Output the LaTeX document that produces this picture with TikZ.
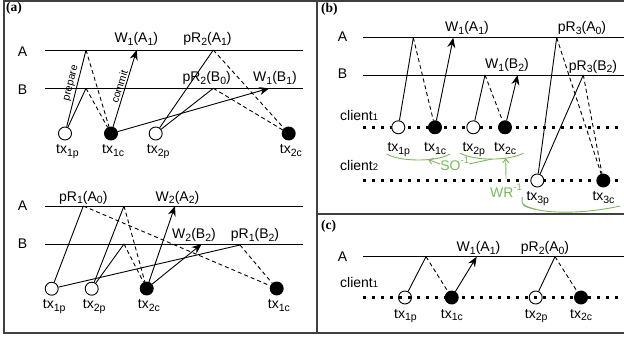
\documentclass[tikz,border=0pt]{standalone}
\usepackage{fontspec}
\setmainfont{Liberation Sans}
\newfontfamily\panelfont{Liberation Serif}
\usetikzlibrary{arrows.meta, positioning, calc}

\definecolor{relgreen}{RGB}{122,184,92}
\newcommand{\lsub}[1]{\raisebox{-0.4ex}{\fontsize{10.5}{11}\selectfont #1}}
\newcommand{\lsup}[1]{\raisebox{0.9ex}{\fontsize{9.5}{10}\selectfont #1}}
\newcommand{\lsml}[1]{{\fontsize{9.5}{10}\selectfont #1}}

\begin{document}
\begin{tikzpicture}[
    x=1pt, y=-1pt, % 像素坐标(y 向下)
    every node/.style={font=\fontsize{14}{16}\selectfont}, % 统一字体
    frame/.style={black!75, line width=1.2pt}, % 外框与分隔线
    axis/.style={black, line width=1pt}, % 数据项 A/B 时间线
    client/.style={black, line width=2.8pt, dash pattern=on 2.8pt off 6.2pt}, % 客户端(粗点线)
    msg/.style={black, line width=0.9pt}, % prepare / 读
    ack/.style={msg, dash pattern=on 4pt off 3pt}, % 返回(虚线)
    wr/.style={msg, -{Stealth[length=10pt, width=8pt]}}, % commit 写入(箭头)
    txp/.style={circle, draw, fill=white, line width=0.9pt, minimum size=13pt, inner sep=0pt}, % prepare 点
    txc/.style={txp, fill=black}, % commit 点
    txl/.style={anchor=base west, inner sep=0pt}, % tx 标注
    ev/.style={anchor=base, inner sep=0pt}, % 操作标注
    note/.style={font=\fontsize{10.5}{12}\selectfont, inner sep=1.5pt}, % 线上小字
    rel/.style={relgreen, line width=0.9pt}, % 依赖关系(绿色)
    barb/.style={rel, -{Straight Barb[length=4pt, width=6pt]}},
    tag/.style={font=\panelfont\bfseries\fontsize{13.5}{15}\selectfont, anchor=base west, inner sep=0pt}
]
    \useasboundingbox (0,0) rectangle (624,341);

    % 0. 外框与分隔线
    \draw[frame] (624,1) -- (4,1) -- (4,333) -- (624,333);
    \draw[frame] (317,1) -- (317,333);
    \draw[frame] (317,214) -- (624,214);
    \node[tag] (taga) at (6,11.5) {(a)};
    \node[tag] (tagb) at (321,12) {(b)};
    \node[tag] (tagc) at (321,229) {(c)};

    % 1. (a) 上图:时间线 A、B
    \foreach \y/\t in {50/A, 88.3/B} {
        \draw[axis] (45,\y) -- (303,\y);
        \node (u\t) at (22.5,{\y+1.5}) {\t};
    }
    \node[txp] (u1p) at (65,133.5) {};
    \node[txc] (u1c) at (111,133.5) {};
    \node[txp] (u2p) at (155.7,133.5) {};
    \node[txc] (u2c) at (288.7,133.5) {};
    \foreach \n/\s in {u1p/1p, u1c/1c, u2p/2p, u2c/2c} {
        \node[txl] (\n-l) at ($(\n)+(-9,20)$) {tx\lsub{\s}};
    }
    \coordinate (uA1p) at (86,50);
    \coordinate (uB1p) at (86,88.3);
    \coordinate (uA1w) at (136.7,50);
    \coordinate (uB1w) at (269.3,88.3);
    \coordinate (uA2r) at (213.3,50);
    \coordinate (uB2r) at (213.3,88.3);
    \draw[msg] (u1p) -- (uA1p) node[note, pos=0.55, sloped, above] (prep) {prepare};
    \draw[msg] (u1p) -- (uB1p);
    \draw[ack] (uA1p) -- (u1c);
    \draw[ack] (uB1p) -- (u1c);
    \draw[wr] (u1c) -- (uA1w) node[note, pos=0.5, sloped, above] (comm) {commit};
    \draw[wr] (u1c) -- (uB1w);
    \draw[msg] (u2p) -- (uA2r);
    \draw[msg] (u2p) -- (uB2r);
    \draw[ack] (uA2r) -- (u2c);
    \draw[ack] (uB2r) -- (u2c);
    \node[ev] (uw1a) at (136.3,42.3) {W\lsub{1}(A\lsub{1})};
    \node[ev] (ur2a) at (207.5,42.3) {pR\lsub{2}(A\lsub{1})};
    \node[ev] (ur2b) at (206.7,81.7) {pR\lsub{2}(B\lsub{0})};
    \node[ev] (uw1b) at (275,81.7) {W\lsub{1}(B\lsub{1})};

    % 2. (a) 下图
    \foreach \y/\t in {206/A, 244/B} {
        \draw[axis] (45,\y) -- (303,\y);
        \node (l\t) at (22.5,\y) {\t};
    }
    \node[txp] (l1p) at (51.7,288.7) {};
    \node[txp] (l2p) at (91.7,288.7) {};
    \node[txc] (l2c) at (146.7,288.5) {};
    \node[txc] (l1c) at (276.7,288.5) {};
    \foreach \n/\s in {l1p/1p, l2p/2p, l2c/2c, l1c/1c} {
        \node[txl] (\n-l) at ($(\n)+(-9,20)$) {tx\lsub{\s}};
    }
    \coordinate (lA1r) at (83.3,206);
    \coordinate (lA2p) at (124,206);
    \coordinate (lB2p) at (124,244);
    \coordinate (lA2w) at (175,206);
    \coordinate (lB2w) at (201.7,244);
    \coordinate (lB1r) at (240,245);
    \draw[msg] (l1p) -- (lA1r);
    \draw[ack] (lA1r) -- (l1c);
    \draw[msg] (l2p) -- (lA2p);
    \draw[msg] (l2p) -- (lB2p);
    \draw[ack] (lA2p) -- (l2c);
    \draw[ack] (lB2p) -- (l2c);
    \draw[wr] (l2c) -- (lA2w);
    \draw[wr] (l2c) -- (lB2w);
    \draw[msg] (l1p) -- (lB1r);
    \draw[ack] (lB1r) -- (l1c);
    \node[ev] (lr1a) at (83.3,201) {pR\lsub{1}(A\lsub{0})};
    \node[ev] (lw2a) at (177.5,201) {W\lsub{2}(A\lsub{2})};
    \node[ev] (lw2b) at (194,238.3) {W\lsub{2}(B\lsub{2})};
    \node[ev] (lr1b) at (255,238.3) {pR\lsub{1}(B\lsub{2})};

    % 3. (b) 两个客户端
    \foreach \y/\t in {37.7/A, 75/B} {
        \draw[axis] (363,\y) -- (624,\y);
        \node (b\t) at (342.5,{\y-1.3}) {\t};
    }
    \node[txl] (bcl1) at (340,120) {client\lsml{1}};
    \node[txl] (bcl2) at (340,170) {client\lsml{2}};
    \draw[client] (363,127.3) -- (624,127.3);
    \draw[client] (363,180.5) -- (624,180.5);
    \node[txp] (b1p) at (398.3,127.3) {};
    \node[txc] (b1c) at (435,127.3) {};
    \node[txp] (b2p) at (473.3,127.3) {};
    \node[txc] (b2c) at (505,127.3) {};
    \node[txp] (b3p) at (537.3,180.5) {};
    \node[txc] (b3c) at (603.3,180.5) {};
    \foreach \n/\s/\d in {b1p/1p/24, b1c/1c/24, b2p/2p/24, b2c/2c/24, b3p/3p/20, b3c/3c/20} {
        \node[txl] (\n-l) at ($(\n)+(-11,\d)$) {tx\lsub{\s}};
    }
    \coordinate (bA1p) at (413.3,37.7);
    \coordinate (bA1w) at (453.3,37.7);
    \coordinate (bB2p) at (485,75);
    \coordinate (bB2w) at (517.7,75);
    \coordinate (bA3r) at (556.7,37.7);
    \coordinate (bB3r) at (583.3,75);
    \draw[msg] (b1p) -- (bA1p);
    \draw[ack] (bA1p) -- (b1c);
    \draw[wr] (b1c) -- (bA1w);
    \draw[msg] (b2p) -- (bB2p);
    \draw[ack] (bB2p) -- (b2c);
    \draw[wr] (b2c) -- (bB2w);
    \draw[msg] (b3p) -- (bA3r);
    \draw[msg] (b3p) -- (bB3r);
    \draw[ack] (bA3r) -- (b3c);
    \draw[ack] (bB3r) -- (b3c);
    \node[ev] (bw1a) at (467,31.7) {W\lsub{1}(A\lsub{1})};
    \node[ev] (br3a) at (582,31.7) {pR\lsub{3}(A\lsub{0})};
    \node[ev] (bw1b) at (507,68.3) {W\lsub{1}(B\lsub{2})};
    \node[ev] (br3b) at (593,70) {pR\lsub{3}(B\lsub{2})};

    % 4. (b) SO^-1 与 WR^-1(绿色)
    \draw[rel] (386.7,154) .. controls (400,162) and (437,162) .. (450,154) coordinate[pos=0.63] (so1);
    \draw[rel] (460,153.3) .. controls (475,161) and (508,161) .. (523.3,153.3)
        coordinate[pos=0.5] (so2) coordinate[pos=0.7] (wr2);
    \draw[rel] (523,204) .. controls (535,214) and (580,215) .. (620,206) coordinate[pos=0.22] (wr3);
    \node[ev, relgreen] (so) at (454.7,170.5) {SO\lsup{-1}};
    \node[ev, relgreen] (wr) at (506,197) {WR\lsup{-1}};
    \coordinate[above=5pt of wr] (wrtop);
    \draw[barb] (so.west) -- (so1);
    \draw[rel] (so.east) -- (so2);
    \draw[barb] (wrtop) -- (wr2);
    \draw[rel] (wr.south east) .. controls (522,206) .. (wr3);

    % 5. (c) 单客户端
    \draw[axis] (363,256.7) -- (624,256.7);
    \node (cA) at (342.5,256.7) {A};
    \node[txl] (ccl1) at (340,287.3) {client\lsml{1}};
    \node[txp] (c1p) at (405,297.5) {};
    \node[txc] (c1c) at (451.7,297.5) {};
    \node[txp] (c2p) at (535.7,297.5) {};
    \node[txc] (c2c) at (581,297.5) {};
    \draw[client] (363,297.5) -- (624,297.5);
    \foreach \n/\s in {c1p/1p, c1c/1c, c2p/2p, c2c/2c} {
        \node[txl] (\n-l) at ($(\n)+(-11,20.5)$) {tx\lsub{\s}};
    }
    \coordinate (cA1p) at (426,256.7);
    \coordinate (cA1w) at (476.7,256.7);
    \coordinate (cA2r) at (555,256.7);
    \draw[msg] (c1p) -- (cA1p);
    \draw[ack] (cA1p) -- (c1c);
    \draw[wr] (c1c) -- (cA1w);
    \draw[msg] (c2p) -- (cA2r);
    \draw[ack] (cA2r) -- (c2c);
    \node[ev] (cw1a) at (478.5,251.7) {W\lsub{1}(A\lsub{1})};
    \node[ev] (cr2a) at (545,251.7) {pR\lsub{2}(A\lsub{0})};

\end{tikzpicture}
\end{document}
